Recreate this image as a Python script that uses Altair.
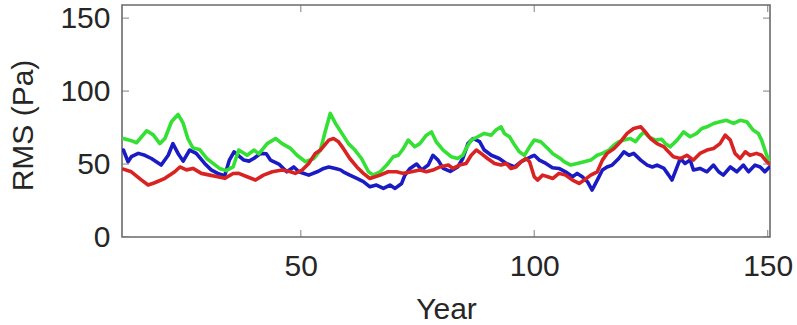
import altair as alt
import pandas as pd

# ---- axis settings ----
x_domain = [11.7, 150.5]
y_domain = [0, 159]
x_tick_values = [50, 100, 150]
y_tick_values = [0, 50, 100, 150]

# ---- series ----
green_years = [12, 13.7, 14.8, 17, 18.4, 19.8, 20.9, 22.3, 23.7, 24.8, 25.8, 26.9, 28.3, 29.8, 31.2,
               32.6, 34, 35.5, 36.7, 38.5, 40, 41, 42.8, 44.6, 46, 47.8, 49.2, 51, 52.8, 54.2,
               55.2, 56.3, 57.4, 58.8, 60.2, 61.6, 63, 64.5, 65.5, 67, 68.4, 69.8, 70.9, 72, 73,
               74.4, 75.5, 76.9, 78, 79, 80.5, 82.2, 83.6, 84.7, 85.4, 86.5, 87.9, 89.3, 90.8, 91.8,
               92.9, 93.6, 94.7, 95.8, 96.8, 97.9, 99, 100, 101.4, 102.9, 104, 105.5, 106.4, 107.8,
               109.2, 110.7, 112.1, 113.5, 114.6, 116, 117.1, 118.1, 119.2, 120.6, 121.7, 122.8,
               123.5, 124.5, 126, 127.3, 128.1, 129.1, 130.6, 132, 133.4, 134.8, 135.9, 137, 138.4,
               139.8, 141.2, 142.7, 144.1, 145.5, 146.9, 148, 148.7, 149.8, 150.4]
green_rms = [67.5, 66, 64.6, 72.8, 70, 64, 67.5, 79, 84, 78, 67.5, 61, 60, 54, 50.5,
             47, 45.5, 48, 59.6, 56, 59.6, 57, 64, 67.5, 64, 60.7, 56, 51.6, 53.8, 59.6,
             72, 84.7, 78, 71, 64, 59.6, 53.8, 44.7, 42.4, 44.7, 49.3, 55, 56, 60.7, 66.4,
             61.8, 64, 69.8, 72, 65.3, 59.6, 55, 53.8, 56, 60.7, 66.4, 68.7, 71, 69.8, 73.3,
             75.5, 71, 68.7, 63, 58.4, 56, 61.8, 66.4, 65.3, 60.7, 57, 54, 51.6, 49.3,
             50.4, 51.6, 52.7, 56, 57.3, 59.6, 63, 65.3, 66.4, 67.5, 65.3, 69.8,
             72, 68.7, 66.4, 67, 64, 61.8, 66.4, 72, 68.7, 71, 74.4, 75.5, 77.8,
             79, 80, 77.8, 80, 79, 73.3, 71, 66.4, 56, 52]

blue_years = [12, 13, 13.7, 15.2, 16.6, 18, 20.1, 21.6, 22.6, 23.7, 24.8, 26.2, 27.6, 29.4, 30.8,
              32.2, 33.7, 34.7, 35.7, 37.8, 38.9, 40, 41.4, 42.6, 43.5, 45.3, 47, 48.5, 49.6, 51.7,
              53.5, 54.9, 56, 57.4, 58.5, 59.1, 60.5, 62, 63.4, 64.8, 66.2, 67.7, 69.1, 70.2, 71.6,
              72.3, 73.4, 74.8, 75.9, 77.3, 78.3, 79.4, 80.5, 82, 83.6, 84.7, 85.8, 86.9, 88.3, 89.3,
              90.8, 92.5, 94, 95.8, 97.2, 99.3, 100, 101.1, 102.5, 103.9, 105.3, 106.7, 108.2, 109.2,
              110.3, 111.4, 112.4, 113.5, 114.6, 115.6, 116.7, 118.1, 119.2, 120.3, 121.3, 122.8,
              124.2, 125.3, 126.3, 127.8, 128.8, 129.5, 130.6, 131.3, 132.3, 133.4, 134.1, 135.5,
              137, 138.4, 139.5, 140.5, 142, 143.4, 144.8, 145.9, 147.3, 148.4, 149.4, 150.4]
blue_rms = [59.6, 51.6, 55, 57.3, 56, 53.8, 49.3, 56, 64, 57.3, 52, 59.6, 57.3, 50.4, 46,
            43.6, 42, 52.7, 58.4, 52.7, 52, 54, 57.3, 57, 52.7, 50, 44.7, 48, 44.7, 42.4,
            44.7, 47, 48, 47, 46, 44.7, 42.4, 40.1, 37.9, 34.4, 35.6, 33.3, 35.6, 33.3, 36.7,
            42.4, 47, 50, 46, 49.3, 56, 52.7, 47, 45, 48, 53.8, 64, 67.5, 65.3, 59.6,
            56, 53.8, 50.4, 48, 51.6, 55, 56, 52.7, 50.4, 47.5, 47, 44.7, 41.3, 43.6,
            41.3, 37.9, 32.2, 39, 45.9, 48, 49.3, 53.8, 58.4, 56, 57.3, 52.7,
            49.3, 48, 49.3, 47, 42.4, 39, 48, 53.8, 50.4, 52.7, 45.9, 47,
            44.7, 49.3, 44.7, 42.4, 48, 44.7, 49.3, 44.7, 49.3, 48, 44.7, 48]

red_years = [12, 13.7, 15.9, 17.3, 18.7, 20.9, 23, 24.1, 25.5, 26.9, 28.7, 30.5, 32.2, 33.7, 35.5,
             36.7, 38.5, 40.3, 42, 43.9, 46, 47.8, 48.8, 50.3, 51.7, 53.1, 54.2, 56, 57, 58,
             59.1, 60.5, 62, 63.4, 64.8, 67, 68.7, 70.5, 72, 73.7, 75.5, 76.9, 78.3, 79.8, 81.6,
             82.6, 84, 85.4, 86.5, 87.6, 88.6, 90, 91.5, 92.9, 94, 95, 96.1, 97.2, 98.2, 99,
             100, 100.7, 101.8, 102.9, 104, 105.3, 106.7, 108.2, 109.6, 110.7, 112.1, 113.5,
             114.6, 115.6, 117.1, 118.5, 119.9, 121.3, 122.8, 123.8, 124.9, 126.3, 127.8, 128.4,
             129.8, 131.3, 132.7, 134.1, 135.5, 137, 138.4, 139.8, 140.9, 142, 143, 144.1,
             145.2, 146.2, 147.6, 148.7, 149.8, 150.4]
red_rms = [46.5, 44.7, 39, 35.6, 37.2, 40.2, 44.7, 48, 46, 47, 43.6, 42.4, 41.3, 40.2, 43.5,
           43.6, 41.3, 39, 42.4, 44.7, 45.9, 44.7, 43.6, 45.9, 50.4, 57.3, 59.6, 66.4, 67.5, 65.5,
           60.7, 53.8, 48, 43.6, 40.1, 42.4, 44.7, 44.7, 43.6, 44.7, 45.9, 44.7, 45.9, 48, 49.3,
           47, 49.3, 50.4, 56, 59.6, 57.3, 53.8, 50.4, 49.3, 50.4, 47, 48, 51.6, 53.8, 51.6,
           41.3, 39, 42.4, 41.3, 40.1, 43.6, 42.4, 39, 36.7, 39, 42.4, 44.7,
           52.7, 57.3, 60.7, 65.3, 71, 74.4, 75.5, 72, 67.5, 64, 61.8, 59.6,
           55, 53.8, 56, 52.7, 57.3, 59.6, 60.7, 64, 69.8, 66.4, 57.3, 53.8,
           58.4, 56, 57.3, 56, 51.6, 50]

series = [
    ("Blue", blue_years, blue_rms, "#1b1bc4"),
    ("Green", green_years, green_rms, "#35e035"),
    ("Red", red_years, red_rms, "#d92323"),
]

frame_color = "#6a6a6a"
text_color = "#262626"
font = "Liberation Sans"

x_enc = alt.X(
    "year:Q",
    scale=alt.Scale(domain=x_domain, nice=False, zero=False),
    axis=alt.Axis(values=x_tick_values, title="Year", labelPadding=14,
                  titleY=81, titleBaseline="alphabetic"),
)
y_enc = alt.Y(
    "rms:Q",
    scale=alt.Scale(domain=y_domain, nice=False),
    axis=alt.Axis(values=y_tick_values, title="RMS (Pa)", labelPadding=12,
                  titleX=-90, titleY=120, titleAngle=-90, titleAlign="center",
                  titleBaseline="alphabetic"),
)

layers = []
for name, yrs, vals, col in series:
    df = pd.DataFrame({"year": yrs, "rms": vals, "series": name})
    layers.append(
        alt.Chart(df).mark_line(color=col, strokeWidth=3.6, strokeJoin="round",
                                strokeCap="round", clip=True).encode(x=x_enc, y=y_enc)
    )

# inner tick marks (MATLAB style) on all four sides
xt = pd.DataFrame({"year": x_tick_values * 2,
                   "rms": [y_domain[0]] * len(x_tick_values) + [y_domain[1]] * len(x_tick_values)})
yt = pd.DataFrame({"rms": y_tick_values * 2,
                   "year": [x_domain[0]] * len(y_tick_values) + [x_domain[1]] * len(y_tick_values)})
layers.append(alt.Chart(xt).mark_tick(orient="vertical", size=14, thickness=1.2,
                                      color=frame_color, clip=True).encode(x=x_enc, y=y_enc))
layers.append(alt.Chart(yt).mark_tick(orient="horizontal", size=14, thickness=1.2,
                                      color=frame_color, clip=True).encode(x=x_enc, y=y_enc))

chart = (
    alt.layer(*layers)
    .properties(
        width=648, height=232,
        padding={"left": 122, "top": 5, "right": 27, "bottom": 88},
        autosize=alt.AutoSizeParams(type="none"),
        background="white",
    )
    .configure_view(stroke=frame_color, strokeWidth=1.6)
    .configure_axis(
        domain=False, ticks=False, tickSize=0, grid=False,
        labelFont=font, labelFontSize=30, labelColor=text_color,
        titleFont=font, titleFontSize=30, titleFontWeight="normal", titleColor=text_color,
    )
)

chart.save("out.html", embed_options={"renderer": "svg", "actions": False})
